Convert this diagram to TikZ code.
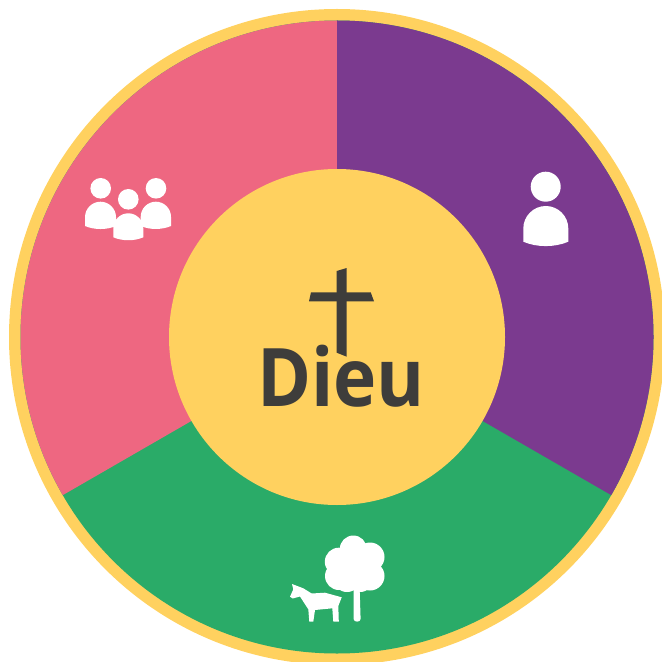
\documentclass[tikz,border=0pt]{standalone}
\usepackage{fontspec}
\setmainfont[FakeStretch=0.905]{Open Sans}
\definecolor{pinkc}{HTML}{EE6781}
\definecolor{purplec}{HTML}{7B3A8F}
\definecolor{greenc}{HTML}{2AAB68}
\definecolor{yellowc}{HTML}{FFD15F}
\definecolor{darkc}{HTML}{3E3D3B}
\tikzset{
  icon/.style={fill=white,draw=none},
  crossbar/.style={fill=darkc,draw=none},
}
\newcommand{\bodyshape}[4]{% left, right, top, bottom of the sides
  \pgfmathsetmacro{\mx}{(#1+#2)/2}
  \pgfmathsetmacro{\rr}{(#2-#1)/2}
  \fill[icon] (#1,#4) -- (#1,#3+\rr) .. controls (#1,#3+0.45*\rr) and (\mx-0.55*\rr,#3) .. (\mx,#3)
    .. controls (\mx+0.55*\rr,#3) and (#2,#3+0.45*\rr) .. (#2,#3+\rr) -- (#2,#4)
    .. controls (\mx+0.4*\rr,#4+0.26*\rr) and (\mx-0.4*\rr,#4+0.26*\rr) .. (#1,#4) -- cycle;
}
\begin{document}
\begin{tikzpicture}[x=0.02cm,y=-0.02cm]
\useasboundingbox (0,0) rectangle (662,662);
\coordinate (c) at (337,337);
% ring and sectors
\fill[yellowc] (c) circle[radius=328];
\begin{scope}
  \clip (c) circle[radius=316.5];
  \fill[greenc] (c) circle[radius=320];
  \fill[pinkc] (c) -- (337,-100) -- (-100,-100) -- (-100,589) -- cycle;
  \fill[purplec] (c) -- (337,-100) -- (774,-100) -- (774,589) -- cycle;
\end{scope}
\fill[yellowc] (c) circle[radius=168];
% cross
\fill[crossbar] (336.7,271) -- (346.7,268) -- (346.7,356.7) -- (336.7,352.7) -- cycle;
\fill[crossbar] (311,292.3) -- (370.7,292.3) -- (374,301.3) -- (309,301.3) -- cycle;
% label
\node[text=darkc,font=\fontsize{46}{46}\selectfont\bfseries,inner sep=0pt,anchor=base] (dieu) at (341,406) {Dieu};
% single person
\fill[icon] (545.7,186.7) circle[radius=15];
\bodyshape{523.3}{568.3}{206}{241.7}
% group
\fill[icon] (100.7,188.3) circle[radius=10.3];
\fill[icon] (156,188.3) circle[radius=10.3];
\fill[icon] (128.3,199.3) circle[radius=10.3];
\bodyshape{85}{116}{201.7}{226}
\bodyshape{140.7}{171}{201.7}{226}
\bodyshape{113.3}{143.3}{213.3}{237.3}
% tree
\fill[icon] (353.3,549) circle[radius=13.5];
\fill[icon] (338.8,561.7) circle[radius=14];
\fill[icon] (370,557) circle[radius=14.5];
\fill[icon] (339,576) circle[radius=14];
\fill[icon] (370,576) circle[radius=14.5];
\fill[icon] (347,578) circle[radius=14];
\fill[icon] (360,578) circle[radius=14];
\fill[icon] (353.3,565) circle[radius=17];
\fill[icon] (353.6,588) -- (359.6,588) -- (360.6,619) .. controls (360.6,622.5) and (353.6,622.5) .. (353.6,619) -- cycle;
% horse
\fill[icon] (292,584) -- (303.3,588.3) -- (311.7,593.5) -- (325,592.7) -- (341.7,597.3) -- (338.3,606) -- (338.8,621.7) -- (333.3,621.7) -- (332.3,608.3) -- (315,610) -- (313.3,621.7) -- (309.3,621.7) -- (308.3,609.3) -- (300,596.5) -- (292.7,598.5) -- (290,596.7) -- (293.3,589.3) -- cycle;
\end{tikzpicture}
\end{document}
